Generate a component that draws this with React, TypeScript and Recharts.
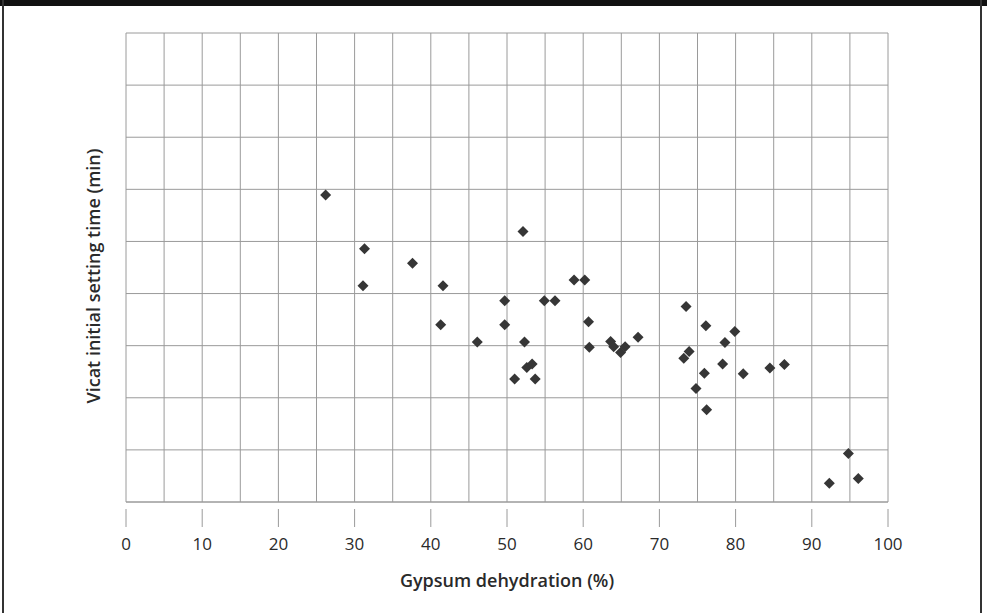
import React from "react";
import {
  ScatterChart,
  Scatter,
  XAxis,
  YAxis,
  CartesianGrid,
} from "recharts";

// Gypsum dehydration (%) vs Vicat initial setting time (grid units)
const dehydration = [
  26.2, 31.3, 31.1, 37.6, 41.6, 41.3, 46.1, 52.1, 49.7, 49.7, 52.3, 54.9,
  56.3, 51.0, 52.6, 53.3, 53.7, 58.8, 60.2, 60.7, 60.8, 63.6, 64.0, 64.9,
  65.5, 67.2, 73.5, 73.2, 73.9, 76.1, 75.9, 74.8, 76.2, 78.3, 78.6, 79.9,
  81.0, 84.5, 86.4, 94.8, 92.3, 96.1,
];
const settingTime = [
  5.89, 4.86, 4.15, 4.58, 4.15, 3.4, 3.07, 5.19, 3.86, 3.4, 3.07, 3.86,
  3.86, 2.36, 2.58, 2.65, 2.36, 4.26, 4.26, 3.46, 2.97, 3.08, 2.98, 2.87,
  2.98, 3.16, 3.75, 2.76, 2.89, 3.38, 2.47, 2.18, 1.77, 2.65, 3.06, 3.27,
  2.46, 2.57, 2.64, 0.93, 0.36, 0.45,
];

const xTicks = [0, 5, 10, 15, 20, 25, 30, 35, 40, 45, 50, 55, 60, 65, 70, 75, 80, 85, 90, 95, 100];
const yTicks = [0, 1, 2, 3, 4, 5, 6, 7, 8, 9];

const points = dehydration.map((x, i) => ({ x, y: settingTime[i] }));

const font = "'Open Sans', 'Noto Sans', sans-serif";
const gridColor = "#9a9a9a";

const Diamond = (props: any) => {
  const { cx, cy } = props;
  const r = 5.5;
  return (
    <path
      d={`M${cx},${cy - r}L${cx + r},${cy}L${cx},${cy + r}L${cx - r},${cy}Z`}
      fill="#363636"
    />
  );
};

// only the tens get a tick mark and a label
const XTick = (props: any) => {
  const { x, y, payload } = props;
  if (payload.value % 10 !== 0) return null;
  return (
    <g>
      <line x1={x} x2={x} y1={y - 1} y2={y + 17} stroke={gridColor} />
      <text
        x={x}
        y={y + 40}
        textAnchor="middle"
        fontFamily={font}
        fontSize={17}
        fill="#2a2a2a"
      >
        {payload.value}
      </text>
    </g>
  );
};

const label: React.CSSProperties = {
  position: "absolute",
  fontFamily: font,
  fontWeight: 600,
  fontSize: 18,
  color: "#2a2a2a",
  whiteSpace: "nowrap",
};

export default function App() {
  return (
    <div
      style={{
        position: "fixed",
        left: 0,
        top: 0,
        width: 987,
        height: 613,
        background: "#fff",
        overflow: "hidden",
      }}
    >
      <div style={{ position: "absolute", left: 0, top: 0, width: 987, height: 6, background: "#111" }} />
      <div style={{ position: "absolute", left: 2, top: 0, width: 2, height: 613, background: "#333" }} />
      <div style={{ position: "absolute", left: 980, top: 0, width: 2, height: 613, background: "#333" }} />
      <ScatterChart
        width={987}
        height={613}
        margin={{ top: 33, right: 99, bottom: 51, left: 126 }}
      >
        <CartesianGrid stroke={gridColor} strokeWidth={1} />
        <XAxis
          type="number"
          dataKey="x"
          domain={[0, 100]}
          ticks={xTicks}
          interval={0}
          height={60}
          tickLine={false}
          tick={<XTick />}
          axisLine={{ stroke: gridColor }}
        />
        <YAxis
          type="number"
          dataKey="y"
          domain={[0, 9]}
          ticks={yTicks}
          interval={0}
          width={0}
          tickSize={0}
          tick={() => <g />}
          tickLine={false}
          axisLine={{ stroke: gridColor }}
        />
        <Scatter data={points} shape={<Diamond />} isAnimationActive={false} />
      </ScatterChart>
      <div style={{ ...label, left: 507, top: 580, transform: "translate(-50%, -50%)" }}>
        Gypsum dehydration (%)
      </div>
      <div
        style={{
          ...label,
          left: 93,
          top: 276,
          transform: "translate(-50%, -50%) rotate(-90deg)",
        }}
      >
        Vicat initial setting time (min)
      </div>
    </div>
  );
}
